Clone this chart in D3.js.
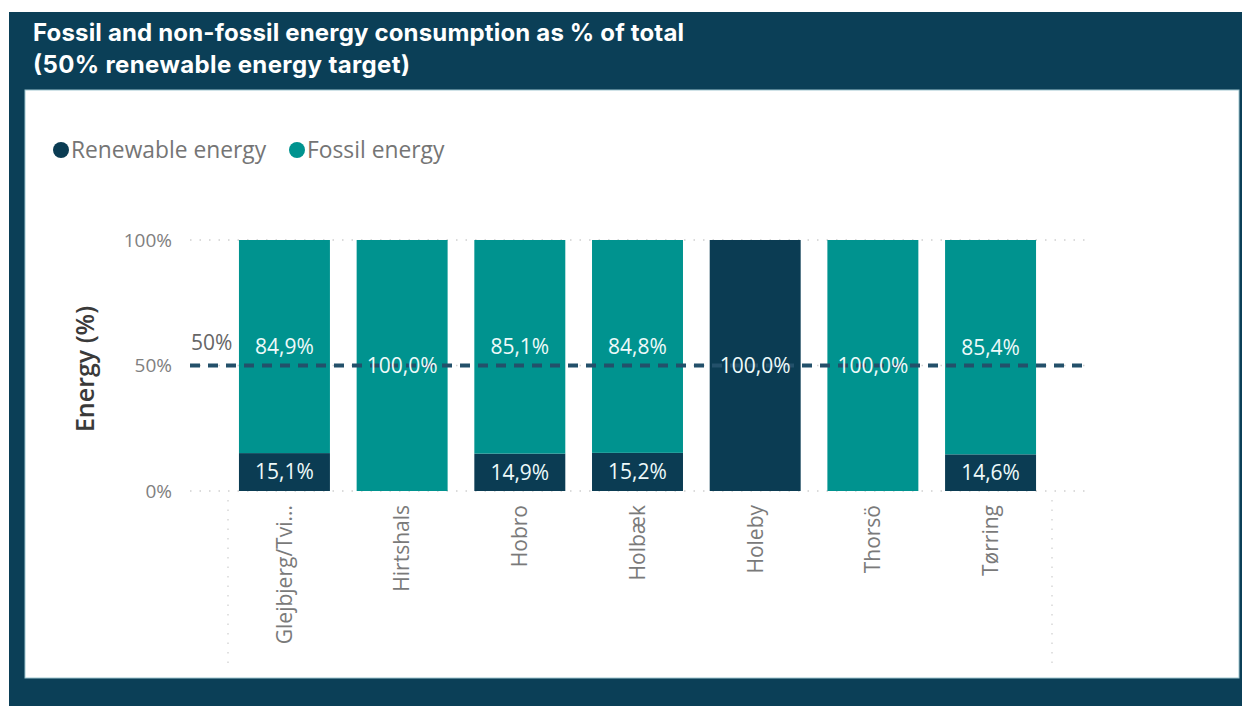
<!DOCTYPE html>
<html>
<head>
<meta charset="utf-8">
<script src="https://cdn.jsdelivr.net/npm/d3@7"></script>
<style>
  html, body { margin: 0; padding: 0; background: #fff; }
  svg { display: block; }
</style>
</head>
<body>
<div id="chart"></div>
<script>
(() => {
  const CHART_WIDTH = 1242
  const CHART_HEIGHT = 706

  // data
  const sites = ['Glejbjerg/Tvi...', 'Hirtshals', 'Hobro', 'Holbæk', 'Holeby', 'Thorsö', 'Tørring']
  const renewable = [15.1, 0, 14.9, 15.2, 100, 0, 14.6]
  const fossil = [84.9, 100, 85.1, 84.8, 0, 100, 85.4]
  const yTicks = [0, 50, 100]
  const target = 50
  const seriesNames = ['Renewable energy', 'Fossil energy']

  const COLORS = { renewable: '#0b3c53', fossil: '#00938f', frame: '#0b3f57' }
  const FONT = '"Open Sans", "Noto Sans", sans-serif'

  const svg = d3.select('#chart').append('svg')
    .attr('width', CHART_WIDTH)
    .attr('height', CHART_HEIGHT)

  // frame and white panel
  svg.append('rect')
    .attr('x', 9).attr('y', 12)
    .attr('width', CHART_WIDTH - 9).attr('height', CHART_HEIGHT - 12)
    .attr('fill', COLORS.frame)
  svg.append('rect')
    .attr('x', 25).attr('y', 90)
    .attr('width', 1214).attr('height', 588)
    .attr('fill', '#fff')
    .attr('stroke', '#9fc6cf')
    .attr('stroke-width', 1)

  const title = svg.append('text')
    .attr('fill', '#fff')
    .style('font-family', 'Inter, Lato, sans-serif')
    .style('font-weight', 700)
    .style('font-size', '24px')
  title.append('tspan').attr('x', 33).attr('y', 41)
    .attr('textLength', 651).attr('lengthAdjust', 'spacing')
    .text('Fossil and non-fossil energy consumption as % of total')
  title.append('tspan').attr('x', 33).attr('y', 73)
    .attr('textLength', 377).attr('lengthAdjust', 'spacing')
    .text('(50% renewable energy target)')

  // legend
  const legend = svg.append('g').attr('transform', 'translate(61, 150)')
  const legendX = [0, 236]
  seriesNames.forEach((name, i) => {
    const g = legend.append('g').attr('transform', `translate(${legendX[i]}, 0)`)
    g.append('circle').attr('r', 8)
      .attr('fill', i === 0 ? COLORS.renewable : COLORS.fossil)
    g.append('text').attr('x', 10).attr('dy', '0.35em')
      .attr('fill', '#757575')
      .style('font-family', FONT)
      .style('font-size', '22.8px')
      .text(name)
  })

  // scales
  const xScale = d3.scaleBand()
    .domain(sites)
    .range([190, 1085])
    .paddingInner(0.227)
    .paddingOuter(0.416)

  const yScale = d3.scaleLinear()
    .domain([0, 100])
    .range([491, 240])

  // horizontal gridlines
  svg.append('g').selectAll('line')
    .data(yTicks)
    .join('line')
    .attr('x1', 190).attr('x2', 1085)
    .attr('y1', d => yScale(d)).attr('y2', d => yScale(d))
    .attr('stroke', '#d0d0d0')
    .attr('stroke-width', 1.5)
    .attr('stroke-dasharray', '1.5 8')

  // dotted verticals under axis
  svg.append('g').selectAll('line')
    .data([228, 1052])
    .join('line')
    .attr('x1', d => d).attr('x2', d => d)
    .attr('y1', 500).attr('y2', 665)
    .attr('stroke', '#d8d8d8')
    .attr('stroke-width', 1.5)
    .attr('stroke-dasharray', '1.5 8')

  // y axis
  const yAxis = d3.axisLeft(yScale)
    .tickValues(yTicks)
    .tickFormat(d => d + '%')
    .tickSize(0)
    .tickPadding(0)
  const yG = svg.append('g')
    .attr('transform', 'translate(172, 0)')
    .call(yAxis)
  yG.select('.domain').remove()
  yG.selectAll('text')
    .attr('fill', '#808080')
    .style('font-family', FONT)
    .style('font-size', '19px')

  svg.append('text')
    .attr('transform', 'translate(94, 369) rotate(-90)')
    .attr('text-anchor', 'middle')
    .attr('fill', '#3a3a3a')
    .style('font-family', FONT)
    .style('font-weight', 600)
    .style('font-size', '25px')
    .text('Energy (%)')

  // x axis
  const xAxis = d3.axisBottom(xScale).tickSize(0).tickPadding(0)
  const xG = svg.append('g')
    .attr('transform', 'translate(0, 505)')
    .call(xAxis)
  xG.select('.domain').remove()
  xG.selectAll('text')
    .attr('transform', 'rotate(-90)')
    .attr('text-anchor', 'end')
    .attr('x', 0).attr('y', 0)
    .attr('dx', 0).attr('dy', '0.35em')
    .attr('fill', '#7a7a7a')
    .style('font-family', FONT)
    .style('font-size', '21px')

  // stacked bars
  const rows = sites.map((s, i) => ({ site: s, renewable: renewable[i], fossil: fossil[i] }))
  const stack = d3.stack().keys(['renewable', 'fossil'])(rows)
  const fmt = v => v.toFixed(1).replace('.', ',') + '%'

  const layers = svg.append('g').selectAll('g')
    .data(stack)
    .join('g')
    .attr('fill', d => COLORS[d.key])
  layers.selectAll('rect')
    .data(d => d.filter(p => p[1] - p[0] > 0))
    .join('rect')
    .attr('x', d => xScale(d.data.site))
    .attr('width', xScale.bandwidth())
    .attr('y', d => yScale(d[1]))
    .attr('height', d => yScale(d[0]) - yScale(d[1]))

  // target line
  svg.append('line')
    .attr('x1', 190).attr('x2', 1085)
    .attr('y1', yScale(target)).attr('y2', yScale(target))
    .attr('stroke', '#23506a')
    .attr('stroke-width', 4)
    .attr('stroke-dasharray', '10 8')
  svg.append('text')
    .attr('x', 191).attr('y', yScale(target) - 16)
    .attr('fill', '#666')
    .style('font-family', FONT)
    .style('font-size', '21px')
    .text(target + '%')

  // data labels
  svg.append('g').selectAll('g')
    .data(stack)
    .join('g')
    .selectAll('text')
    .data(d => d.filter(p => p[1] - p[0] > 0))
    .join('text')
    .attr('x', d => xScale(d.data.site) + xScale.bandwidth() / 2)
    .attr('y', d => yScale((d[0] + d[1]) / 2))
    .attr('dy', '0.35em')
    .attr('text-anchor', 'middle')
    .attr('fill', '#eefafa')
    .style('font-family', FONT)
    .style('font-size', '21px')
    .text(d => fmt(d[1] - d[0]))
})()
</script>
</body>
</html>
